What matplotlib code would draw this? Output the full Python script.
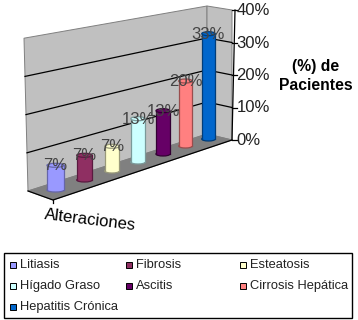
import matplotlib
matplotlib.use('Agg')
import matplotlib.pyplot as plt
from matplotlib.patches import Polygon, Rectangle, Ellipse

plt.rcParams['font.family'] = ['Liberation Sans', 'DejaVu Sans']

# data
categories = ['Litiasis', 'Fibrosis', 'Esteatosis', 'Hígado Graso', 'Ascitis',
              'Cirrosis Hepática', 'Hepatitis Crónica']
values = [7, 7, 7, 13, 13, 20, 33]
colors = ['#9999FF', '#8F2F62', '#FFFFCC', '#CCFFFF', '#660066', '#FF8080', '#0066CC']
edge_colors = ['#6666AA', '#5A1A40', '#99997A', '#7A9999', '#330033', '#994D4D', '#003D7A']
ticks = [0, 10, 20, 30, 40]

# fake 3D layout, in pixels (the bars get closer together towards the back)
left_y0, left_step = 191, 38.2
back_x, back_y0, back_step = 207, 134, 32
right_x, right_y0, right_step = 232, 140, 32.5
slot_x = [55.5, 84.5, 112, 138, 163, 185.5, 208.5]
slot_y = [192, 182, 173, 164, 156, 148, 141]
slot_w = [17, 15.5, 14.5, 14.5, 14, 13.5, 13.5]
base_h = 5
px_per_pct = 3.1


def wall_left(v):
    return (24 + (40 - v) / 40 * 4, left_y0 - v / 10 * left_step)


def wall_back(v):
    return (back_x, back_y0 - v / 10 * back_step)


def wall_right(v):
    return (right_x, right_y0 - v / 10 * right_step)


fig = plt.figure(figsize=(3.58, 3.2), dpi=100)
ax = fig.add_axes([0, 0, 1, 1])
ax.set_xlim(0, 358)
ax.set_ylim(320, 0)
ax.axis('off')

# walls and floor
ax.add_patch(Polygon([wall_left(0), wall_left(40), wall_back(40), wall_back(0)],
                     fc='#C0C0C0', ec='#808080', lw=0.7, zorder=1))
ax.add_patch(Polygon([wall_back(0), wall_back(40), wall_right(40), wall_right(0)],
                     fc='#C0C0C0', ec='#808080', lw=0.7, zorder=1))
ax.add_patch(Polygon([wall_left(0), (53, 200), (right_x, right_y0), wall_back(0)],
                     fc='#808080', ec='#808080', lw=0.7, zorder=1))

# gridlines, the 0 and 40 edges stay grey
for t in ticks[1:-1]:
    a, b, c = wall_left(t), wall_back(t), wall_right(t)
    ax.plot([a[0], b[0], c[0]], [a[1], b[1], c[1]], color='black', lw=0.9, zorder=2)

# front edges of the floor and axis
ax.plot([28, 53, right_x], [191, 200, right_y0], color='black', lw=0.9, zorder=2)
ax.plot([53, 53], [200, 203], color='black', lw=0.9, zorder=2)
ax.plot([235, right_x], [right_y0 - 40 / 10 * right_step, right_y0], color='black', lw=0.9, zorder=2)
for t in ticks:
    x, y = wall_right(t)
    ax.plot([x, x + 5], [y, y], color='black', lw=0.9, zorder=2)
    ax.text(236.5, y + 0.5, f'{t}%', fontsize=12, color='#222222', ha='left', va='center', zorder=6)

# bars
for i, (name, v) in enumerate(zip(categories, values)):
    cx = slot_x[i]
    y0 = slot_y[i]
    y1 = y0 - (base_h + v * px_per_pct)
    w = slot_w[i]
    ell_h = 4
    z = 3 + i * 0.1
    ax.add_patch(Ellipse((cx, y0 - 2), w, ell_h, fc=colors[i], ec=edge_colors[i], lw=0.9, zorder=z))
    ax.add_patch(Rectangle((cx - w / 2, y1), w, y0 - 2 - y1, fc=colors[i], ec='none', zorder=z))
    ax.plot([cx - w / 2, cx - w / 2], [y1, y0 - 2], color=edge_colors[i], lw=0.9, zorder=z)
    ax.plot([cx + w / 2, cx + w / 2], [y1, y0 - 2], color=edge_colors[i], lw=0.9, zorder=z)
    ax.add_patch(Ellipse((cx, y1), w, ell_h, fc=colors[i], ec=edge_colors[i], lw=0.9, zorder=z))
    ax.text(cx, y1 + 0.5, f'{v}%', fontsize=12, color='#444444', ha='center', va='center', zorder=6)

# axis titles
ax.text(90.5, 220, 'Alteraciones', fontsize=12, rotation=-7, ha='center', va='center', color='black')
ax.text(316, 66, '(%) de', fontsize=11.3, fontweight='bold', ha='center', va='center')
ax.text(316, 86, 'Pacientes', fontsize=11.3, fontweight='bold', ha='center', va='center')

# legend box
ax.add_patch(Rectangle((4, 253), 348, 65, fc='white', ec='black', lw=1, zorder=5))
col_x = [10, 126, 240]
row_y = [265, 286, 307]
for i, name in enumerate(categories):
    x = col_x[i % 3]
    y = row_y[i // 3]
    ax.add_patch(Rectangle((x, y - 3), 6, 6, fc=colors[i], ec='black', lw=0.7, zorder=6))
    ax.text(x + 10, y, name, fontsize=9.3, color='#222222', ha='left', va='center', zorder=6)

fig.savefig('out.png', dpi=100)
